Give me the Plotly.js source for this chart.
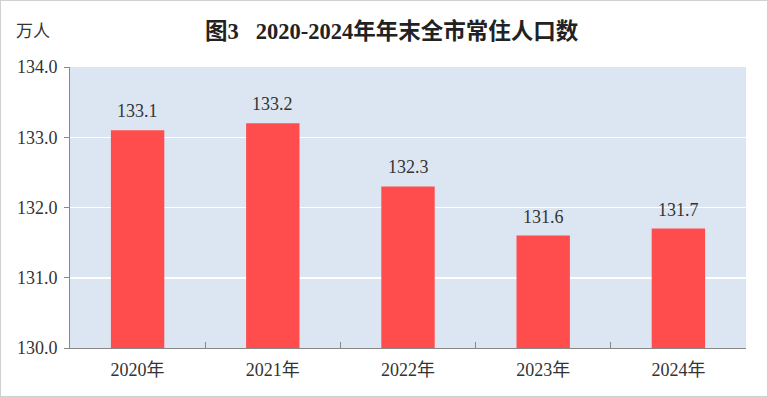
<!DOCTYPE html>
<html><head><meta charset="utf-8">
<script src="https://cdn.plot.ly/plotly-3.0.1.min.js"></script>
<style>html,body{margin:0;padding:0;background:#fff;}#chart{width:766px;height:395px;border:1px solid #d0d0d0;}</style>
</head><body><div id="chart"></div>
<script>
const categories = ['2020年','2021年','2022年','2023年','2024年'];
const values = [133.1, 133.2, 132.3, 131.6, 131.7];
const yTicks = [130, 131, 132, 133, 134];

const font = 'Liberation Serif, DejaVu Serif, Noto Sans CJK SC, serif';
const trace = {
  type: 'bar', x: categories, y: values, width: 0.395,
  marker: {color: '#ff4d4d', line: {width: 0}},
  hoverinfo: 'none'
};
const annotations = categories.map((c, i) => ({
  x: c, y: values[i], xref: 'x', yref: 'y', text: values[i].toFixed(1),
  showarrow: false, yanchor: 'bottom', yshift: 7,
  font: {family: font, size: 18, color: '#333'}
}));
annotations.push({
  xref: 'paper', yref: 'paper', x: -0.083, y: 1.128, xanchor: 'left', yanchor: 'middle',
  text: '万人', showarrow: false, font: {family: font, size: 17, color: '#333'}
});
const layout = {
  width: 766, height: 395,
  margin: {l: 69, r: 21, t: 66, b: 48},
  paper_bgcolor: '#fff', plot_bgcolor: '#dce6f2',
  title: {text: '<b>图3   2020-2024年年末全市常住人口数</b>', x: 0.51, xanchor: 'center', y: 0.925, yanchor: 'middle',
          font: {family: font, size: 22.5, color: '#222'}},
  showlegend: false,
  xaxis: {tickson: 'boundaries', ticks: 'inside', ticklen: 6, tickcolor: '#888',
          showline: true, linecolor: '#888', linewidth: 1, showgrid: false, ticklabelstandoff: 5,
          tickfont: {family: font, size: 18, color: '#333'}, fixedrange: true},
  yaxis: {range: [130, 134], tickvals: yTicks, tickformat: '.1f', ticks: 'outside', ticklen: 5, tickcolor: '#888',
          showline: true, linecolor: '#888', linewidth: 1, gridcolor: '#ffffff', gridwidth: 1.5, ticklabelstandoff: 3,
          zeroline: false, tickfont: {family: font, size: 18, color: '#333'}, fixedrange: true},
  annotations: annotations
};
Plotly.newPlot('chart', [trace], layout, {displayModeBar: false, staticPlot: true});
</script></body></html>
